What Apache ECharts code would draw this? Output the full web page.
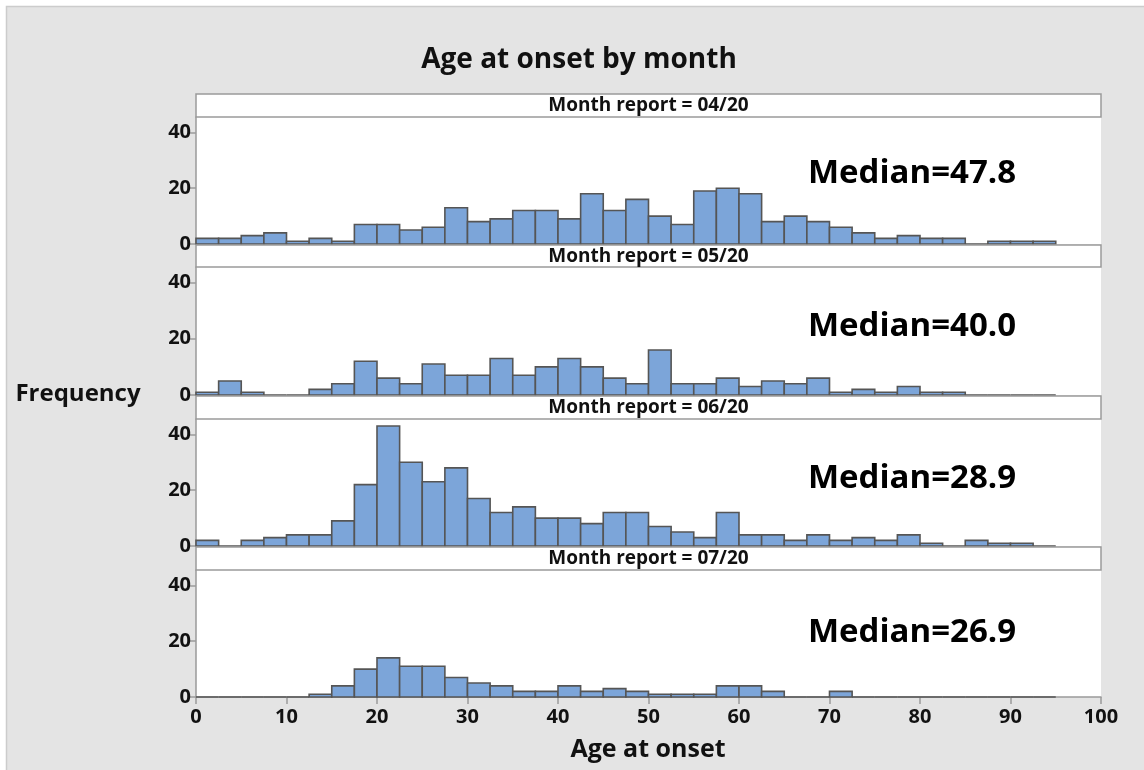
<!DOCTYPE html>
<html>
<head>
<meta charset="utf-8">
<script src="https://cdn.jsdelivr.net/npm/echarts@6/dist/echarts.min.js"></script>
<style>
html,body{margin:0;padding:0;background:#fff;}
#chart{width:1144px;height:770px;}
</style>
</head>
<body>
<div id="chart"></div>
<script>
// Bin edges (age at onset, width 2.5)
var binStart = [0,2.5,5,7.5,10,12.5,15,17.5,20,22.5,25,27.5,30,32.5,35,37.5,40,42.5,45,47.5,50,52.5,55,57.5,60,62.5,65,67.5,70,72.5,75,77.5,80,82.5,85,87.5,90,92.5];
var binEnd   = [2.5,5,7.5,10,12.5,15,17.5,20,22.5,25,27.5,30,32.5,35,37.5,40,42.5,45,47.5,50,52.5,55,57.5,60,62.5,65,67.5,70,72.5,75,77.5,80,82.5,85,87.5,90,92.5,95];

// Frequencies per month report
var freqApr = [2,2,3,4,1,2,1,7,7,5,6,13,8,9,12,12,9,18,12,16,10,7,19,20,18,8,10,8,6,4,2,3,2,2,0,1,1,1];
var freqMay = [1,5,1,0,0,2,4,12,6,4,11,7,7,13,7,10,13,10,6,4,16,4,4,6,3,5,4,6,1,2,1,3,1,1,0,0,0,0];
var freqJun = [2,0,2,3,4,4,9,22,43,30,23,28,17,12,14,10,10,8,12,12,7,5,3,12,4,4,2,4,2,3,2,4,1,0,2,1,1,0];
var freqJul = [0,0,0,0,0,1,4,10,14,11,11,7,5,4,2,2,4,2,3,2,1,1,1,4,4,2,0,0,2,0,0,0,0,0,0,0,0,0];

var panelLabels = ['Month report = 04/20','Month report = 05/20','Month report = 06/20','Month report = 07/20'];
var medianLabels = ['Median=47.8','Median=40.0','Median=28.9','Median=26.9'];
var xTicks = [0,10,20,30,40,50,60,70,80,90,100];
var yTicks = [0,20,40];

var series4 = [freqApr, freqMay, freqJun, freqJul];

// layout
var plotLeft = 196, plotRight = 1101;
var plotTop = [117, 267, 419, 570];
var plotBottom = [244, 395, 546, 697];
var stripTop = [94, 245, 396, 547];
var medianY = [174, 327, 479, 633];
var FONT = '"Open Sans", "Noto Sans", sans-serif';

function renderItem(params, api) {
  var x0 = api.value(0), x1 = api.value(1), y = api.value(2);
  var p0 = api.coord([x0, 0]);
  var p1 = api.coord([x1, y]);
  return {
    type: 'rect',
    shape: {x: p0[0], y: p1[1], width: p1[0] - p0[0], height: p0[1] - p1[1]},
    style: {fill: '#7ca5d9', stroke: '#555555', lineWidth: 1.6}
  };
}

var grids = [], xAxes = [], yAxes = [], series = [], graphics = [];

graphics.push({type:'rect', z:-10, shape:{x:6.5,y:6.5,width:1144,height:770}, style:{fill:'#e4e4e4', stroke:'#cccccc', lineWidth:1.5}});

for (var i = 0; i < 4; i++) {
  var last = (i === 3);
  grids.push({left: plotLeft, right: 1144 - plotRight, top: plotTop[i], height: plotBottom[i] - plotTop[i],
    show: true, backgroundColor: '#ffffff', borderWidth: 0, containLabel: false});
  xAxes.push({type:'value', gridIndex:i, min:0, max:100, interval:10,
    axisLine:{show:last, lineStyle:{color:'#9a9a9a', width:1.5}},
    axisTick:{show:last, length:7, customValues: xTicks, lineStyle:{color:'#9a9a9a', width:1.5}},
    axisLabel:{show:last, margin:10, customValues: xTicks, color:'#111', fontFamily:FONT, fontWeight:'bold', fontSize:20},
    splitLine:{show:false}});
  yAxes.push({type:'value', gridIndex:i, min:0, max:45.5, interval:20,
    axisLine:{show:true, lineStyle:{color:'#9a9a9a', width:1.5}},
    axisTick:{show:true, length:8, customValues: yTicks, lineStyle:{color:'#9a9a9a', width:1.5}},
    axisLabel:{show:true, margin:5, customValues: yTicks, color:'#111', fontFamily:FONT, fontWeight:'bold', fontSize:20},
    splitLine:{show:false}});
  var data = [];
  for (var k = 0; k < binStart.length; k++) data.push([binStart[k], binEnd[k], series4[i][k]]);
  series.push({type:'custom', xAxisIndex:i, yAxisIndex:i, renderItem: renderItem, data: data,
    encode:{x:[0,1], y:2}, clip:false, silent:true});

  graphics.push({type:'rect', shape:{x:plotLeft, y:stripTop[i], width:plotRight-plotLeft, height:plotTop[i]-stripTop[i]},
    style:{fill:'#ffffff', stroke:'#9a9a9a', lineWidth:1.5}, z:5});
  graphics.push({type:'text', x:(plotLeft+plotRight)/2, y:(stripTop[i]+plotTop[i])/2 + 0.5, z:6,
    style:{text:panelLabels[i], fill:'#111', font:'bold 19px ' + FONT, textAlign:'center', textVerticalAlign:'middle'}});
  graphics.push({type:'text', x:912, y:medianY[i], z:6,
    style:{text:medianLabels[i], fill:'#000', font:'bold 33px ' + FONT, textAlign:'center', textVerticalAlign:'middle'}});
}

graphics.push({type:'text', x:579, y:60, z:6,
  style:{text:'Age at onset by month', fill:'#111', font:'bold 28px ' + FONT, textAlign:'center', textVerticalAlign:'middle'}});
graphics.push({type:'text', x:78, y:394, z:6,
  style:{text:'Frequency', fill:'#111', font:'bold 24px ' + FONT, textAlign:'center', textVerticalAlign:'middle'}});
graphics.push({type:'text', x:648, y:750, z:6,
  style:{text:'Age at onset', fill:'#111', font:'bold 25px ' + FONT, textAlign:'center', textVerticalAlign:'middle'}});

var chart = echarts.init(document.getElementById('chart'), null, {renderer:'canvas'});
chart.setOption({
  animation:false,
  backgroundColor:'#ffffff',
  grid: grids, xAxis: xAxes, yAxis: yAxes, series: series, graphic: graphics
});
</script>
</body>
</html>
